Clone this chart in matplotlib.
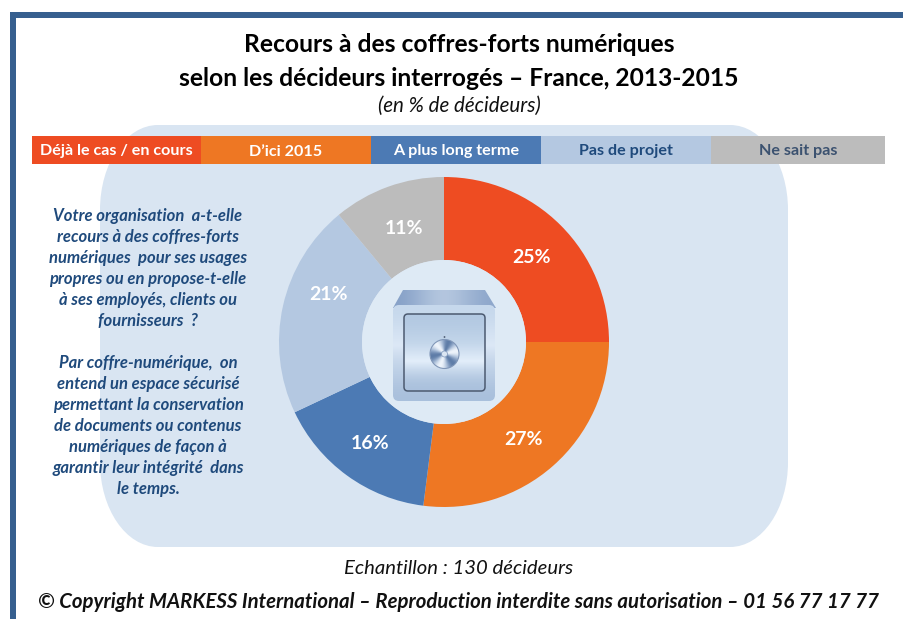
import numpy as np
import matplotlib
matplotlib.use("Agg")
from matplotlib import pyplot as plt
from matplotlib.patches import FancyBboxPatch, Circle, Polygon, Rectangle, PathPatch
from matplotlib.path import Path

plt.rcParams["font.family"] = ["Lato", "DejaVu Sans"]

categories = ["Déjà le cas / en cours", "D’ici 2015", "A plus long terme", "Pas de projet", "Ne sait pas"]
values = [25, 27, 16, 21, 11]
colors = ["#ee4c22", "#ee7723", "#4c7ab4", "#b4c8e1", "#bcbcbc"]
legend_text_colors = ["white", "white", "white", "#1f4a7c", "#3c5270"]
title_lines = ["Recours à des coffres-forts numériques",
               "selon les décideurs interrogés – France, 2013-2015"]
subtitle = "(en % de décideurs)"
question = ["Votre organisation  a-t-elle",
            "recours à des coffres-forts",
            "numériques  pour ses usages",
            "propres ou en propose-t-elle",
            "à ses employés, clients ou",
            "fournisseurs  ?",
            "",
            "Par coffre-numérique,  on",
            "entend un espace sécurisé",
            "permettant la conservation",
            "de documents ou contenus",
            "numériques de façon à",
            "garantir leur intégrité  dans",
            "le temps."]
sample = "Echantillon : 130 décideurs"
copyright_line = "© Copyright MARKESS International – Reproduction interdite sans autorisation – 01 56 77 17 77"


def round_panel(x0, y0, x1, y1, rx, ry):
    # Rectangle with elliptical corners, bezier kappa for a quarter ellipse
    kx, ky = rx * 0.5523, ry * 0.5523
    verts = [(x0 + rx, y0), (x1 - rx, y0),
             (x1 - rx + kx, y0), (x1, y0 + ry - ky), (x1, y0 + ry),
             (x1, y1 - ry),
             (x1, y1 - ry + ky), (x1 - rx + kx, y1), (x1 - rx, y1),
             (x0 + rx, y1),
             (x0 + rx - kx, y1), (x0, y1 - ry + ky), (x0, y1 - ry),
             (x0, y0 + ry),
             (x0, y0 + ry - ky), (x0 + rx - kx, y0), (x0 + rx, y0)]
    codes = [Path.MOVETO, Path.LINETO,
             Path.CURVE4, Path.CURVE4, Path.CURVE4,
             Path.LINETO,
             Path.CURVE4, Path.CURVE4, Path.CURVE4,
             Path.LINETO,
             Path.CURVE4, Path.CURVE4, Path.CURVE4,
             Path.LINETO,
             Path.CURVE4, Path.CURVE4, Path.CURVE4]
    return Path(verts, codes)


fig = plt.figure(figsize=(9.04, 6.19), dpi=100)
ax = fig.add_axes([0, 0, 1, 1])
ax.set_xlim(0, 904)
ax.set_ylim(619, 0)
ax.axis("off")

# Frame, top and left only
ax.add_patch(Rectangle((10, 12), 894, 6, color="#365f8f", lw=0))
ax.add_patch(Rectangle((10, 12), 6, 607, color="#365f8f", lw=0))

# Pale panel behind everything
ax.add_patch(PathPatch(round_panel(100, 125, 788, 547, 58, 85), fc="#d9e5f2", ec="none", zorder=1))

# Titles
for y, line in zip([44.5, 78.5], title_lines):
    ax.text(459, y, line, ha="center", va="center", fontsize=17.7, fontweight="bold", color="black")
ax.text(459, 106, subtitle, ha="center", va="center", fontsize=14.8, style="italic", color="#111111")

# Legend bar
edges = [32, 201, 371, 541, 711, 885]
for i, cat in enumerate(categories):
    ax.add_patch(Rectangle((edges[i], 136), edges[i + 1] - edges[i], 28, color=colors[i], lw=0, zorder=2))
    ax.text((edges[i] + edges[i + 1]) / 2, 151.5, cat, ha="center", va="center", fontsize=11.6,
            fontweight="bold", color=legend_text_colors[i], zorder=3)

# Donut, y axis is flipped so the pie runs counterclock from 270 to look clockwise from the top
cx, cy = 444, 342
wedges, _ = ax.pie(values, colors=colors, startangle=270, counterclock=True, center=(cx, cy), radius=165,
                   wedgeprops=dict(width=83, linewidth=0), frame=True)
ax.set_xlim(0, 904)
ax.set_ylim(619, 0)
ax.set_aspect("auto")
ax.axis("off")
for w in wedges:
    w.set_zorder(3)
ax.add_patch(Circle((cx, cy), 82, fc="#deeaf5", ec="none", zorder=4))

# Percent labels on the ring, nudged where the original sits off the ring centre
label_nudge = [(0, 2), (-3, 3), (-1, 0), (6, -21), (2, 2)]
start = 0.0
for v, (nx, ny) in zip(values, label_nudge):
    mid = np.deg2rad(90 - (start + v / 2) * 3.6)
    start += v
    ax.text(cx + 124 * np.cos(mid) + nx, cy - 124 * np.sin(mid) + 1 + ny, "{:}%".format(v), ha="center", va="center",
            fontsize=14, fontweight="bold", color="white", zorder=5)

# Safe icon
grad_v = np.array([0.0, 0.25, 0.5, 0.72, 0.85, 1.0]).reshape(-1, 1)
grad_top = np.array([0.55, 0.75, 0.9, 0.75, 0.6]).reshape(1, -1)
cmap_body = matplotlib.colors.LinearSegmentedColormap.from_list("body", ["#c6d8ec", "#dce8f6", "#a9c0dc"])
cmap_door = matplotlib.colors.LinearSegmentedColormap.from_list("door", ["#b3c9e2", "#c5d7eb", "#e3eefa", "#a9c0dc"])
cmap_top = matplotlib.colors.LinearSegmentedColormap.from_list("top", ["#7f9bc4", "#c2d2e6"])

top = Polygon([(403, 290), (485, 290), (496, 308), (393, 308)], closed=True, fc="none", ec="none", zorder=5)
ax.add_patch(top)
im = ax.imshow(grad_top, extent=(393, 496, 308, 290), cmap=cmap_top, vmin=0.5, vmax=0.95, zorder=5,
               interpolation="bicubic", aspect="auto")
im.set_clip_path(top)

body = FancyBboxPatch((396, 308), 96, 90, boxstyle="round,pad=3,rounding_size=6", fc="none", ec="none", zorder=5)
ax.add_patch(body)
im = ax.imshow(grad_v, extent=(393, 495, 401, 305), cmap=cmap_body, zorder=5, interpolation="bicubic", aspect="auto")
im.set_clip_path(body)

door = FancyBboxPatch((406, 316), 77, 73, boxstyle="round,pad=2,rounding_size=4", fc="none", ec="none", zorder=6)
ax.add_patch(door)
im = ax.imshow(np.array([0.0, 0.3, 0.7, 1.0]).reshape(-1, 1), extent=(404, 485, 391, 314), cmap=cmap_door,
               zorder=6, interpolation="bicubic", aspect="auto")
im.set_clip_path(door)
ax.add_patch(FancyBboxPatch((406, 316), 77, 73, boxstyle="round,pad=2,rounding_size=4", fc="none",
                            ec="#4c5a70", lw=1.1, zorder=7))

# Dial, brushed metal look
yy, xx = np.mgrid[-1:1:60j, -1:1:60j]
dial_img = 0.5 + 0.5 * np.cos(3 * np.arctan2(yy, xx) + 0.6)
cmap_dial = matplotlib.colors.LinearSegmentedColormap.from_list("dial", ["#5f7da8", "#a9bdd8", "#eef4fb"])
dial = Circle((444.5, 354), 14.5, fc="none", ec="none", zorder=7)
ax.add_patch(dial)
im = ax.imshow(dial_img, extent=(430, 459, 368.5, 339.5), cmap=cmap_dial, zorder=7, interpolation="bilinear",
               aspect="auto")
im.set_clip_path(dial)
ax.add_patch(Circle((444.5, 354), 14.5, fc="none", ec="#8197b8", lw=0.8, zorder=8))
ax.add_patch(Circle((444.5, 354), 3, fc="#dbe6f3", ec="#7e97bb", lw=0.5, zorder=9))
ax.add_patch(Circle((444.5, 337), 0.9, fc="#4c5a70", ec="none", zorder=8))

# Question text
y0, dy = 215.5, 21.07
for i, line in enumerate(question):
    ax.text(148, y0 + i * dy, line, ha="center", va="center", fontsize=12, fontweight="bold", style="italic",
            color="#1f4a7c", zorder=3)

# Footer
ax.text(459, 568.5, sample, ha="center", va="center", fontsize=14.6, style="italic", color="#111111")
ax.text(459, 602, copyright_line, ha="center", va="center", fontsize=14.7, fontweight="bold", style="italic",
        color="#111111")

plt.savefig("out.png", dpi=100)
